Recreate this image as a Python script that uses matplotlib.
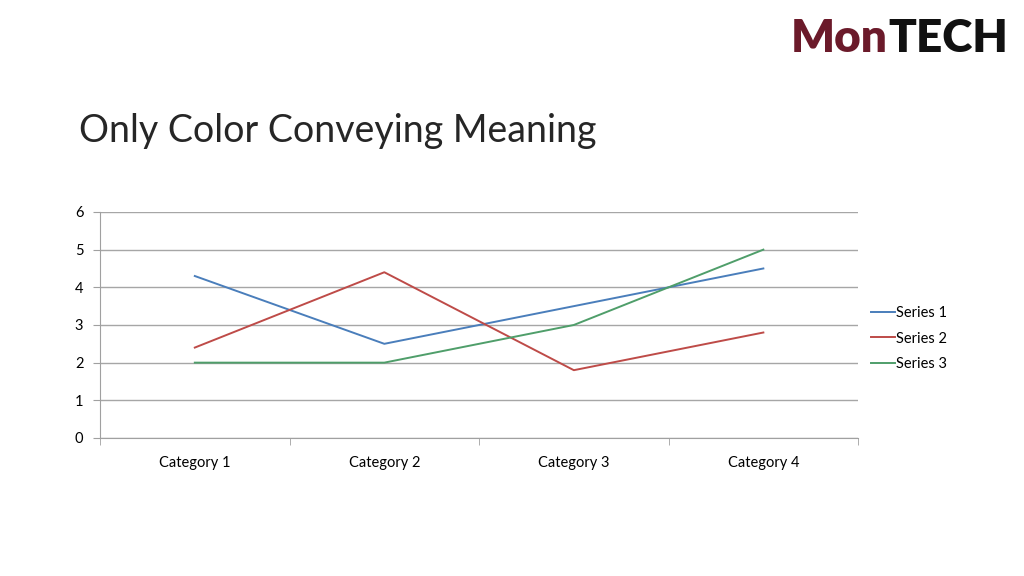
import numpy as np
import matplotlib
matplotlib.use("Agg")
import matplotlib.pyplot as plt

categories = ["Category 1", "Category 2", "Category 3", "Category 4"]
series_names = ["Series 1", "Series 2", "Series 3"]
series1 = [4.3, 2.5, 3.5, 4.5]
series2 = [2.4, 4.4, 1.8, 2.8]
series3 = [2.0, 2.0, 3.0, 5.0]
colors = ["#4a7ebb", "#be4b48", "#4f9e6a"]

plt.rcParams["font.family"] = ["Lato", "DejaVu Sans"]

fig = plt.figure(figsize=(10.24, 5.76), dpi=100)
ax = fig.add_axes([0.0977, 0.2396, 0.7403, 0.3924])

x = np.arange(len(categories))
for vals, name, c in zip([series1, series2, series3], series_names, colors):
    ax.plot(x, vals, color=c, lw=1.4, label=name)

ax.set_xlim(-0.5, len(categories) - 0.5)
ax.set_ylim(0, 6)
ax.set_yticks(range(7))
ax.set_xticks(x)
ax.set_xticklabels(categories)
ax.set_xticks(np.arange(-0.5, len(categories)), minor=True)
ax.tick_params(axis="x", which="major", length=0, pad=13, labelsize=10.5)
ax.tick_params(axis="x", which="minor", length=5, color="#a0a0a0")
ax.tick_params(axis="y", length=5, color="#a0a0a0", pad=7, labelsize=10.5)
ax.grid(axis="y", color="#a6a6a6", lw=1)
ax.set_axisbelow(True)
for s in ["top", "right"]:
    ax.spines[s].set_visible(False)
for s in ["left", "bottom"]:
    ax.spines[s].set_color("#a0a0a0")

ax.legend(loc="center left", bbox_to_anchor=(1.0, 0.44), frameon=False,
          fontsize=10.5, handlelength=1.6, handletextpad=0.1, labelspacing=0.8)

fig.text(0.077, 0.773, "Only Color Conveying Meaning", fontsize=27,
         fontweight="normal", color="#262626", va="center", ha="left")

# logo: "Mon" maroon + "TECH" black, right edge near x=1008px
t2 = fig.text(1008 / 1024, 1 - 52 / 576, "TECH", fontsize=33, fontweight="heavy",
              color="#111111", va="baseline", ha="right")
fig.canvas.draw()
bb = t2.get_window_extent()
fig.text(bb.x0 / fig.bbox.width, 1 - 52 / 576, "Mon", fontsize=33,
         fontweight="heavy", color="#6b1a2a", va="baseline", ha="right")

fig.savefig("out.png", dpi=100)
